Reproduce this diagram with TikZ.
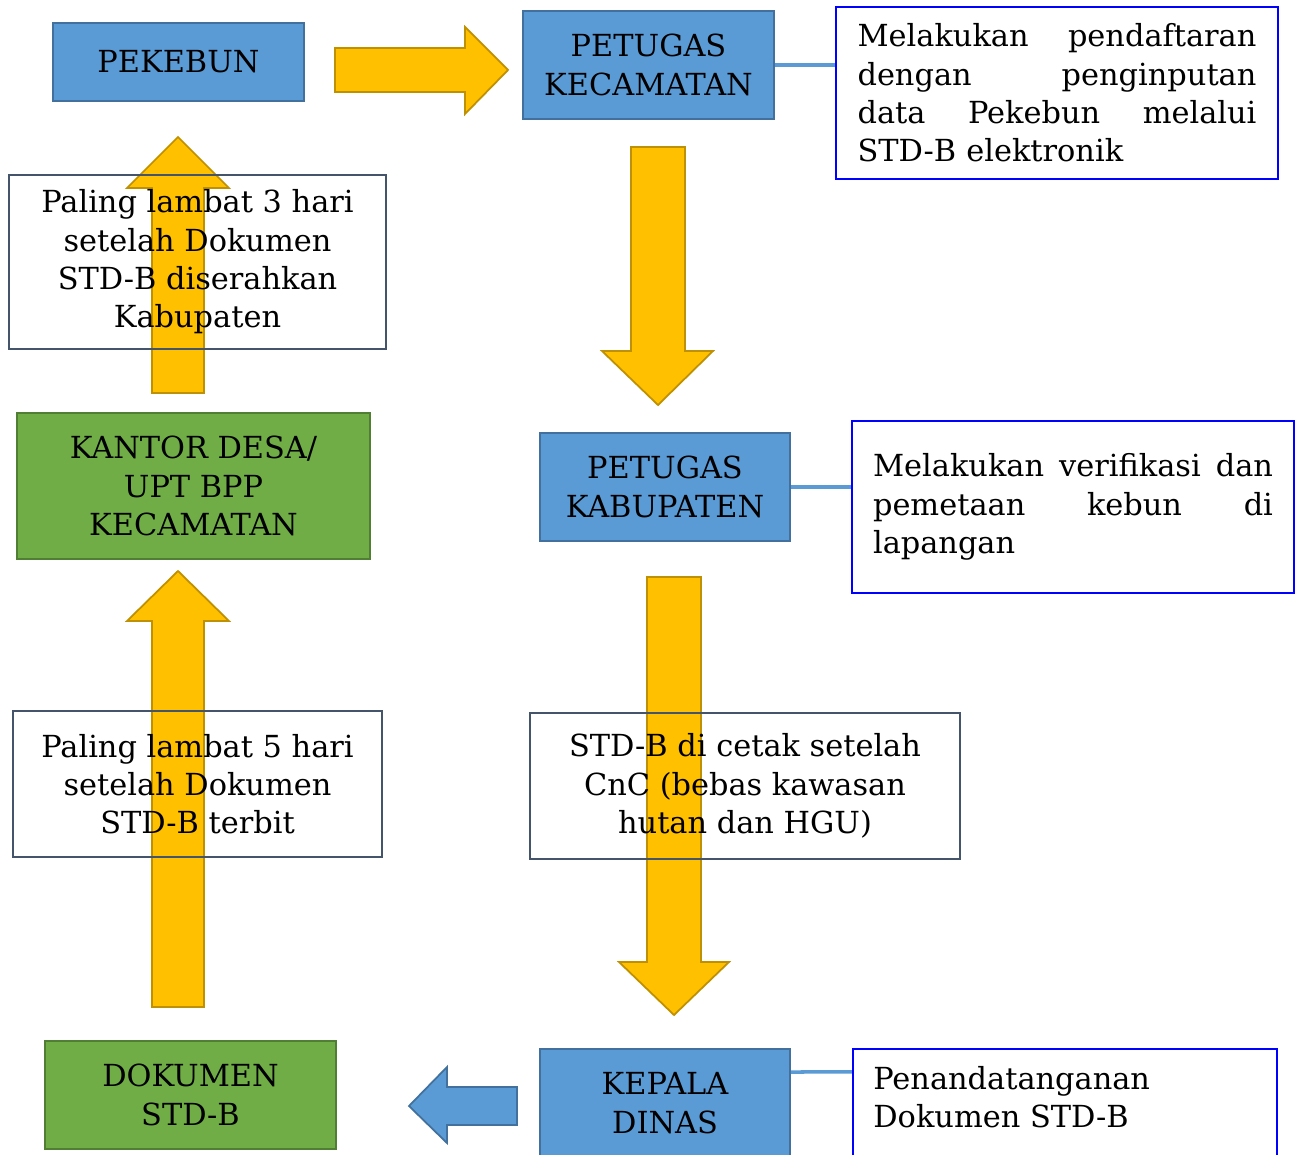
\documentclass[tikz,border=0pt]{standalone}
\usepackage{fontspec}
\setmainfont{DejaVu Serif}
\definecolor{boxblue}{HTML}{5B9BD5}
\definecolor{boxblueline}{HTML}{41719C}
\definecolor{boxgreen}{HTML}{70AD47}
\definecolor{boxgreenline}{HTML}{507E32}
\definecolor{notegray}{HTML}{44546A}
\definecolor{notblue}{HTML}{0000FF}
\definecolor{arrowfill}{HTML}{FFC000}
\definecolor{arrowline}{HTML}{BF9000}
\tikzset{
  txt/.style={font=\fontsize{17.3}{21.8}\selectfont},
  bluebox/.style={txt, draw=boxblueline, fill=boxblue, line width=1.1pt, align=center, inner sep=0pt},
  greenbox/.style={txt, draw=boxgreenline, fill=boxgreen, line width=1.1pt, align=center, inner sep=0pt},
  graynote/.style={txt, draw=notegray, line width=1.1pt, align=center, inner sep=0pt},
  bluenote/.style={txt, draw=notblue, line width=1.4pt, inner sep=0pt},
  bigarrow/.style={fill=arrowfill, draw=arrowline, line width=1pt, line join=miter},
  smallarrow/.style={fill=boxblue, draw=boxblueline, line width=1pt},
  link/.style={draw=boxblue, line width=2pt}
}
\newcommand{\jline}[2]{\leavevmode\hbox to #1{#2}}
\begin{document}
\begin{tikzpicture}[x=0.02cm,y=-0.02cm]
\clip (0,0) rectangle (1301,1155);
\fill[white] (0,0) rectangle (1301,1155);
% block arrows
\draw[bigarrow] (335,48) -- (465,48) -- (465,27) -- (508,70) -- (465,114) -- (465,92) -- (335,92) -- cycle;
\draw[bigarrow] (631,147) -- (685,147) -- (685,351) -- (713,351) -- (658,405) -- (602,351) -- (631,351) -- cycle;
\draw[bigarrow] (647,577) -- (701,577) -- (701,962) -- (729,962) -- (674,1015) -- (619,962) -- (647,962) -- cycle;
\draw[bigarrow] (152,1007) -- (152,621) -- (127,621) -- (178,571) -- (229,621) -- (204,621) -- (204,1007) -- cycle;
\draw[bigarrow] (152,393) -- (152,188) -- (127,188) -- (178,137) -- (229,188) -- (204,188) -- (204,393) -- cycle;
\draw[smallarrow] (517,1087) -- (447,1087) -- (447,1067) -- (409,1106) -- (447,1143) -- (447,1125) -- (517,1125) -- cycle;
% boxes
\node[bluebox, minimum width=5.02cm, minimum height=1.56cm] (pekebun) at (178.5,62) {PEKEBUN};
\node[bluebox, minimum width=5.02cm, minimum height=2.16cm] (keca) at (648.5,65) {PETUGAS\\KECAMATAN};
\node[bluebox, minimum width=5.0cm, minimum height=2.16cm] (kab) at (665,487) {PETUGAS\\KABUPATEN};
\node[bluebox, minimum width=5.0cm, minimum height=2.16cm] (kepala) at (665,1103) {KEPALA\\DINAS};
\node[greenbox, minimum width=5.82cm, minimum height=2.16cm] (dok) at (190.5,1095) {DOKUMEN\\STD-B};
\node[greenbox, minimum width=7.06cm, minimum height=2.92cm] (kantor) at (193.5,486) {KANTOR DESA/\\UPT BPP\\KECAMATAN};
% notes
\node[graynote, minimum width=7.54cm, minimum height=3.48cm] (note3h) at (197.5,262) {Paling lambat 3 hari\\setelah Dokumen\\STD-B diserahkan\\Kabupaten};
\node[graynote, minimum width=7.38cm, minimum height=2.92cm] (note5h) at (197.5,784) {Paling lambat 5 hari\\setelah Dokumen\\STD-B terbit};
\node[graynote, minimum width=8.6cm, minimum height=2.92cm] (notecnc) at (745,786) {STD-B di cetak setelah\\CnC (bebas kawasan\\hutan dan HGU)};
\node[bluenote, text width=7.98cm, inner xsep=0.43cm, minimum height=3.44cm, align=left] (note1) at (1057,93)
  {\jline{7.98cm}{Melakukan\hfill pendaftaran}\\\jline{7.98cm}{dengan\hfill penginputan}\\\jline{7.98cm}{data\hfill Pekebun\hfill melalui}\\STD-B elektronik};
\node[bluenote, text width=8.0cm, inner xsep=0.42cm, minimum height=3.44cm, align=left] (note2) at (1073,507)
  {\jline{8.0cm}{Melakukan\hfill verifikasi\hfill dan}\\\jline{8.0cm}{pemetaan\hfill kebun\hfill di}\\lapangan\\[-6pt]};
\node[bluenote, minimum width=8.48cm, minimum height=2.16cm] (note4) at (1065,1103) {};
\node[txt, align=left, anchor=west, inner sep=0pt] (note4txt) at (873,1097) {Penandatanganan\\Dokumen STD-B};
% connectors
\draw[link] (keca.east) -- (keca.east -| note1.west);
\draw[link] (kab.east) -- (kab.east -| note2.west);
\draw[link] ([yshift=-0.48cm]kepala.north east) -- ([yshift=-0.48cm]note4.north west);
\end{tikzpicture}
\end{document}
